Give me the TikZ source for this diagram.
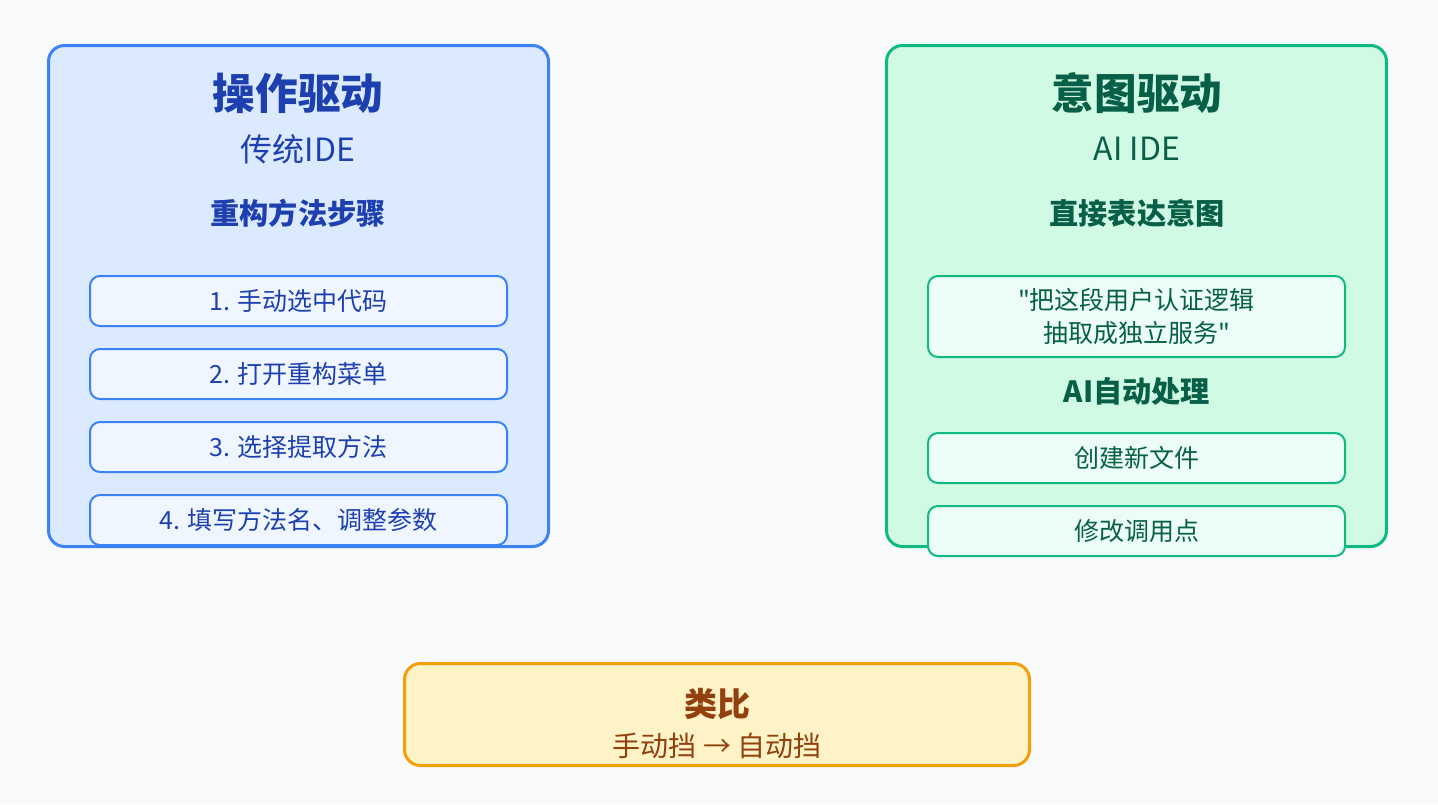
\documentclass[tikz,border=0pt]{standalone}
\usepackage{fontspec}
\newfontfamily\cjkfont{Noto Sans CJK SC}
\usepackage{xcolor}
\usetikzlibrary{positioning}

\definecolor{pagebg}{HTML}{F8FAFC}
\definecolor{opsfill}{HTML}{DBEAFE}
\definecolor{opsdraw}{HTML}{3B82F6}
\definecolor{opsitemfill}{HTML}{EFF6FF}
\definecolor{opstext}{HTML}{1E40AF}
\definecolor{intentfill}{HTML}{D1FAE5}
\definecolor{intentdraw}{HTML}{10B981}
\definecolor{intentitemfill}{HTML}{ECFDF5}
\definecolor{intenttext}{HTML}{065F46}
\definecolor{analogyfill}{HTML}{FEF3C7}
\definecolor{analogydraw}{HTML}{F59E0B}
\definecolor{analogytext}{HTML}{92400E}

\begin{document}
\cjkfont
\begin{tikzpicture}[
  x=0.5pt, y=-0.5pt,
  node distance=10.5pt,
  panel/.style={draw, line width=1.5pt, rounded corners=8pt, minimum width=250pt, minimum height=250.5pt},
  opspanel/.style={panel, draw=opsdraw, fill=opsfill},
  intentpanel/.style={panel, draw=intentdraw, fill=intentfill},
  stepbox/.style={draw, line width=1pt, rounded corners=5pt, minimum width=208.5pt, minimum height=25pt, inner sep=2pt, align=center, font=\fontsize{12.5}{16.5}\selectfont},
  opsstep/.style={stepbox, draw=opsdraw, fill=opsitemfill, text=opstext},
  intentstep/.style={stepbox, draw=intentdraw, fill=intentitemfill, text=intenttext},
  bigtitle/.style={font=\fontsize{21.3}{25}\selectfont\bfseries},
  subtitle/.style={font=\fontsize{16}{19}\selectfont},
  sectiontitle/.style={font=\fontsize{14.6}{18}\selectfont\bfseries}
]
\fill[pagebg] (0,0) rectangle (1438,804);

% left: operation driven
\node[opspanel] (ops) at (298.5,296) {};
\node[bigtitle, text=opstext] (opstitle) at (298,93) {操作驱动};
\node[subtitle, text=opstext] (opssub) at (298,149) {传统IDE};
\node[sectiontitle, text=opstext] (opshead) at (298,213) {重构方法步骤};
\node[opsstep] (step1) at (298.5,301) {1. 手动选中代码};
\node[opsstep, below=of step1] (step2) {2. 打开重构菜单};
\node[opsstep, below=of step2] (step3) {3. 选择提取方法};
\node[opsstep, below=of step3] (step4) {4. 填写方法名、调整参数};

% right: intent driven
\node[intentpanel] (intent) at (1136.5,296) {};
\node[bigtitle, text=intenttext] (intenttitle) at (1137,93) {意图驱动};
\node[subtitle, text=intenttext] (intentsub) at (1137,149) {AI IDE};
\node[sectiontitle, text=intenttext] (intenthead) at (1137,213) {直接表达意图};
\node[intentstep, minimum height=40.5pt] (prompt) at (1136.5,316.5) {"把这段用户认证逻辑\\抽取成独立服务"};
\node[sectiontitle, text=intenttext] (aihead) at (1137,391) {AI自动处理};
\node[intentstep] (newfile) at (1136.5,458) {创建新文件};
\node[intentstep, below=of newfile] (callsite) {修改调用点};

% bottom: analogy
\node[draw=analogydraw, fill=analogyfill, line width=1.5pt, rounded corners=8pt, minimum width=312.5pt, minimum height=51pt] (analogy) at (717,714.5) {};
\node[font=\fontsize{16.5}{20}\selectfont\bfseries, text=analogytext] (analogytitle) at (717,704) {类比};
\node[font=\fontsize{14}{17}\selectfont, text=analogytext] (analogysub) at (717,746) {手动挡 → 自动挡};
\end{tikzpicture}
\end{document}
